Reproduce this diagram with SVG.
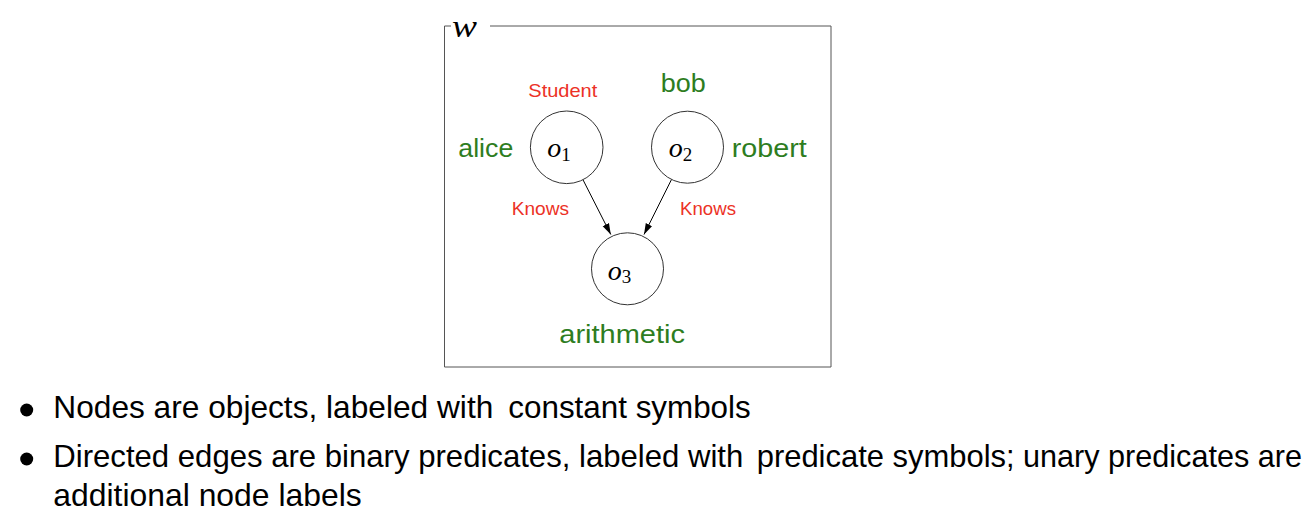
<svg xmlns="http://www.w3.org/2000/svg" width="1316" height="522" viewBox="0 0 1316 522">
<style>
  .sans { font-family: "Liberation Sans", Arial, sans-serif; }
  .math { font-family: "Liberation Serif", "DejaVu Serif", serif; font-style: italic; font-size: 28px; fill: #000; }
  .wlabel { font-size: 32px; }
  .sub { font-family: "Liberation Serif", "DejaVu Serif", serif; font-style: normal; font-size: 19px; }
  .green { fill: #2e7d1f; }
  .red { fill: #ec3226; }
  .const { font-size: 26px; }
  .pred { font-size: 19px; }
  .node { fill: #fff; stroke: #333; stroke-width: 1; }
  .edge { stroke: #000; stroke-width: 1; fill: none; }
  .frame { stroke: #555; stroke-width: 1; fill: none; }
  .body { font-size: 32px; fill: #000; }
</style>
<defs>
  <marker id="arrow" markerUnits="userSpaceOnUse" markerWidth="12" markerHeight="8" refX="11" refY="4" orient="auto">
    <path d="M0,0.5 L11,4 L0,7.5 Z" fill="#000"/>
  </marker>
</defs>
<rect width="1316" height="522" fill="#fff"/>

<g id="world">
  <path class="frame" d="M451,26 L444.5,26 L444.5,367 L831,367 L831,26 L490,26"/>
  <text class="math wlabel" x="452" y="36.7" textLength="25" lengthAdjust="spacingAndGlyphs">w</text>
</g>

<g id="connectors">
  <line id="e13" class="edge" x1="582.8" y1="179.4" x2="610.8" y2="234.5" marker-end="url(#arrow)"/>
  <line id="e23" class="edge" x1="671.6" y1="179.3" x2="644" y2="234.5" marker-end="url(#arrow)"/>
  <text class="sans red pred" x="511.7" y="215" textLength="57.3" lengthAdjust="spacingAndGlyphs">Knows</text>
  <text class="sans red pred" x="680" y="215" textLength="56" lengthAdjust="spacingAndGlyphs">Knows</text>
</g>

<g id="o1">
  <circle class="node" cx="566.7" cy="147.3" r="36.3"/>
  <text class="math" x="547.2" y="157.3">o<tspan class="sub" dy="3.4">1</tspan></text>
  <text class="sans red pred" x="528.3" y="96.7" textLength="69" lengthAdjust="spacingAndGlyphs">Student</text>
  <text class="sans green const" x="458.3" y="157.3" textLength="55" lengthAdjust="spacingAndGlyphs">alice</text>
</g>

<g id="o2">
  <circle class="node" cx="687.5" cy="147.2" r="36"/>
  <text class="math" x="668.8" y="157.3">o<tspan class="sub" dy="3.4">2</tspan></text>
  <text class="sans green const" x="660.7" y="92.3" textLength="45" lengthAdjust="spacingAndGlyphs">bob</text>
  <text class="sans green const" x="731.7" y="157.3" textLength="75" lengthAdjust="spacingAndGlyphs">robert</text>
</g>

<g id="o3">
  <circle class="node" cx="627.5" cy="268.8" r="36"/>
  <text class="math" x="607.8" y="280">o<tspan class="sub" dy="3.4">3</tspan></text>
  <text class="sans green const" x="559.3" y="343.3" textLength="125.7" lengthAdjust="spacingAndGlyphs">arithmetic</text>
</g>

<g id="bullets">
  <circle cx="26.7" cy="410" r="6.5" fill="#000"/>
  <circle cx="26.7" cy="459" r="6.5" fill="#000"/>
  <text class="sans body" x="53.3" y="417.5" textLength="440" lengthAdjust="spacingAndGlyphs">Nodes are objects, labeled with</text>
  <text class="sans body green" x="508.3" y="417.5" textLength="242.4" lengthAdjust="spacingAndGlyphs">constant symbols</text>
  <text class="sans body" x="53.3" y="467" textLength="690" lengthAdjust="spacingAndGlyphs">Directed edges are binary predicates, labeled with</text>
  <text class="sans body red" x="756.7" y="467" textLength="249.3" lengthAdjust="spacingAndGlyphs">predicate symbols</text>
  <text class="sans body" x="1006" y="467" textLength="296" lengthAdjust="spacingAndGlyphs">; unary predicates are</text>
  <text class="sans body" x="53.3" y="505.5" textLength="308.4" lengthAdjust="spacingAndGlyphs">additional node labels</text>
</g>
</svg>
